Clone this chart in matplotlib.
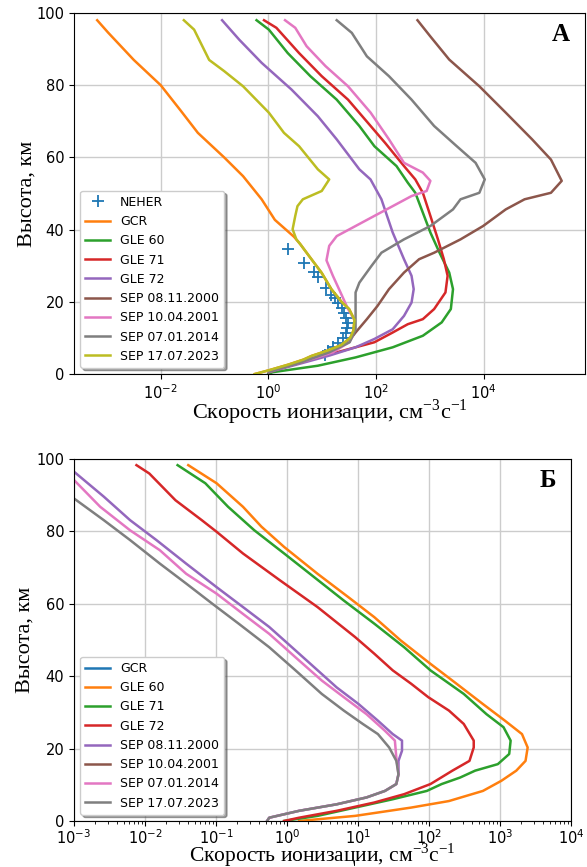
import matplotlib
matplotlib.use("Agg")
import matplotlib.pyplot as plt
from matplotlib.ticker import NullLocator

# ---------------- Panel A data (altitude km, ionization rate cm^-3 s^-1) ----------------
neher_alt = [34.6, 30.7, 28.3, 27.0, 23.7, 21.9, 21.0, 19.6, 18.2, 16.8, 15.4, 14.0, 12.7, 11.3, 9.9, 8.5, 7.6, 6.5, 5.3]
neher_rate = [2.29, 4.68, 7.08, 8.51, 12.0, 14.8, 17.4, 20.0, 22.9, 25.7, 28.2, 30.2, 29.5, 28.2, 24.5, 20.0, 16.2, 12.9, 11.2]

gcr_alt = [98, 94.6, 87, 80, 73, 66.8, 60, 54.8, 48.4, 42.7, 38, 36, 33, 28, 23.5, 20, 18, 15, 12, 10, 8, 6.5, 5, 4, 2.6, 1, 0]
gcr_rate = [6.6e-4, 1.05e-3, 3.16e-3, 0.01, 0.0234, 0.049, 0.151, 0.339, 0.75, 1.32, 3.0, 3.9, 5.5, 9.8, 14.8,
            22.9, 31.6, 39.8, 38.0, 33.1, 22.4, 12.6, 6.3, 4.5, 2.34, 1.0, 0.56]

gle60_alt = [98, 95.4, 88.9, 82.5, 76, 68.7, 63.1, 57.6, 53, 50.2, 44.7, 39.2, 33.6, 28.1, 23.5, 18, 14.3, 10.6, 7.4, 4.6, 2.3, 0.5, 0]
gle60_rate = [0.603, 1.02, 2.29, 6.03, 18.6, 49, 93.3, 240, 389, 537, 741, 1023, 1514, 2291, 2692, 2455, 1660, 741,
              204, 41.7, 8.3, 1.2, 1.0]

gle71_alt = [98, 95.9, 88.9, 82.5, 76, 68.7, 64, 57.6, 53.9, 50.2, 43.8, 37.3, 31.8, 27.2, 22.6, 18, 15.2, 13.8, 11.5, 8.8, 6, 3.2, 0.5]
gle71_rate = [0.83, 1.41, 3.72, 9.8, 30.2, 79.4, 148, 331, 537, 741, 1023, 1413, 1820, 2138, 1950, 1202, 741, 389,
              204, 93.3, 18.6, 3.72, 1.02]

gle72_alt = [98, 92.6, 86.2, 78.8, 71.4, 65, 56.7, 53.9, 48.4, 39.2, 31.8, 27.2, 23.5, 19.8, 16.1, 12.4, 9.7, 7.4, 5.1, 2.8, 0.5]
gle72_rate = [0.138, 0.288, 0.75, 2.69, 8.3, 18.6, 49, 79, 126, 204, 331, 457, 501, 457, 331, 204, 93, 41.7, 13.5, 3.72, 1.02]

sep2000_alt = [98, 93.5, 87.1, 79.7, 72.4, 65, 59.4, 53.5, 50.2, 48.4, 45.6, 41, 37.3, 33.6, 31.8, 28.1, 23.5, 18.9, 15.2, 11.5, 8.8, 6, 3.2, 0.6]
sep2000_rate = [589, 1023, 2291, 8318, 25704, 79433, 177828, 281838, 177828, 57544, 25704, 9772, 3715, 1202, 631, 331,
                174, 107, 67.6, 41.7, 30.2, 14.1, 3.98, 1.02]

sep2001_alt = [98, 95.9, 90.8, 85.3, 79.7, 72.4, 65, 58.5, 55.8, 53.5, 50.7, 49.3, 46.5, 43.8, 41, 38.2, 35.5, 31.5, 27.2,
               22.6, 18, 15, 12.4, 10, 8.8, 6, 3.2, 0.6]
sep2001_rate = [2.04, 3.16, 5.13, 11.5, 30.2, 79.4, 174, 331, 741, 1023, 871, 457, 204, 93.3, 41.7, 18.6, 13.5, 12.0,
                15.8, 21.9, 30.2, 39.8, 39.8, 35.5, 31.6, 15.8, 3.98, 1.02]

sep2014_alt = [98, 94.5, 88, 82.5, 76, 68.7, 63.1, 58.5, 53.9, 50.2, 48.4, 45.6, 41, 37.3, 33.6, 29.8, 25.3, 22.6, 18, 12.4, 8.8, 6, 3.2, 0.6]
sep2014_rate = [18.6, 35.5, 67.6, 174, 457, 1202, 3162, 7079, 10471, 8318, 3715, 2692, 1023, 331, 126, 81, 49, 41.7,
                41.7, 41.7, 32.4, 13.5, 3.98, 1.02]

sep2023_alt = [98, 95.4, 87, 83.9, 79.7, 72.4, 66.8, 63.1, 56.7, 53.9, 50.7, 48.4, 46.5, 43.8, 40.1, 37.3, 36, 33, 28,
               23.5, 20, 18, 15, 12, 10, 8, 6.5, 5, 4, 2.6, 1, 0]
sep2023_rate = [0.0269, 0.0417, 0.0794, 0.151, 0.339, 1.02, 1.95, 3.72, 8.3, 13.5, 9.8, 4.37, 3.47, 3.16, 2.82, 3.31,
                3.9, 5.5, 9.8, 14.8, 22.9, 31.6, 39.8, 38.0, 33.1, 22.4, 12.6, 6.3, 4.5, 2.34, 1.0, 0.56]

# ---------------- Panel B data ----------------
b_gcr_alt = []
b_gcr_rate = []

b_gle60_alt = [98.3, 93.3, 86.8, 81.3, 75.7, 68.3, 61.9, 56.3, 49.9, 43.4, 37.9, 32.3, 27.7, 24, 20.3, 16.6, 13.9, 11.1, 8.3, 5.5, 3.7, 1.4, 0]
b_gle60_rate = [0.0407, 0.102, 0.24, 0.437, 0.912, 2.69, 7.24, 17.0, 39.8, 105, 245, 575, 1175, 2042, 2455, 2291, 1698,
                1047, 575, 191, 56.2, 9.1, 1.48]

b_gle71_alt = [98.3, 93.3, 86.8, 80.3, 73.9, 67.4, 60.9, 54.5, 48, 41.6, 35.1, 29.5, 25.9, 22.2, 18.5, 15.7, 13.9, 12, 10.2, 8.3, 6, 3.7, 1.4, 0]
b_gle71_rate = [0.0288, 0.0708, 0.148, 0.347, 0.912, 2.4, 6.31, 17.0, 44.7, 105, 309, 646, 1122, 1413, 1349, 933, 447,
                275, 151, 93.3, 30.9, 9.12, 2.69, 0.912]

b_gle72_alt = [98.3, 96, 88.6, 83.1, 79.9, 73.9, 66.5, 59.1, 50.8, 46.2, 41.6, 37.9, 34.2, 30.5, 26.8, 22.2, 20.3, 16.6, 13.9, 10.2, 7.4, 5.1, 2.8, 0.9, 0]
b_gle72_rate = [0.00759, 0.0115, 0.0269, 0.0631, 0.102, 0.24, 0.794, 2.69, 9.12, 17.0, 30.9, 56.2, 97.7, 191, 309, 427,
                427, 372, 214, 105, 44.7, 17.0, 5.01, 1.48, 0.912]

b_sep2000_alt = [96.5, 89.6, 83.1, 77.6, 71.1, 64.6, 59.1, 53.6, 47.1, 40.6, 36.9, 32.3, 27.7, 24, 22.2, 19.4, 16.6, 12.9, 10.2, 8.3, 6.5, 4.6, 2.8, 0.9, 0]
b_sep2000_rate = [0.001, 0.00263, 0.00617, 0.0145, 0.038, 0.102, 0.24, 0.562, 1.32, 3.09, 5.01, 10.2, 19.1, 30.9, 41.7,
                  41.7, 37.2, 37.2, 34.7, 24.0, 13.2, 5.01, 1.48, 0.562, 0.525]

b_sep2001_alt = []
b_sep2001_rate = []

b_sep2014_alt = [94.2, 86.8, 80.3, 74.8, 68.3, 62.8, 57.2, 51.7, 45.2, 38.8, 34.2, 29.5, 24.9, 22.2, 17.5, 12.9, 10.2, 8.3, 6.5, 4.6, 2.8, 0.9, 0]
b_sep2014_rate = [0.001, 0.00234, 0.00617, 0.0162, 0.038, 0.102, 0.24, 0.562, 1.32, 3.09, 6.31, 13.2, 24.0, 33.1, 34.7,
                  37.2, 34.7, 24.0, 13.2, 5.01, 1.48, 0.562, 0.525]

b_sep2023_alt = [89.1, 83.1, 77.6, 71.1, 65.6, 60, 54.5, 48, 41.6, 35.1, 30.5, 26.8, 24, 20.3, 16.6, 12.9, 10.2, 8.3, 6.5, 4.6, 2.8, 0.9, 0]
b_sep2023_rate = [0.001, 0.00263, 0.00617, 0.0162, 0.038, 0.0891, 0.209, 0.562, 1.32, 3.09, 6.31, 11.7, 19.1, 27.5, 34.7,
                  37.2, 34.7, 24.0, 13.2, 5.01, 1.48, 0.562, 0.525]

labels_a = ["GCR", "GLE 60", "GLE 71", "GLE 72", "SEP 08.11.2000", "SEP 10.04.2001", "SEP 07.01.2014", "SEP 17.07.2023"]
y_ticks = [0, 20, 40, 60, 80, 100]
xticks_a = [1e-2, 1e0, 1e2, 1e4]

SERIF = ["Liberation Serif", "DejaVu Serif"]
xlabel = "Скорость ионизации, см$^{\\mathregular{-3}}$с$^{\\mathregular{-1}}$"
ylabel = "Высота, км"

plt.rcParams["font.family"] = ["DejaVu Sans"]
plt.rcParams["mathtext.fontset"] = "dejavusans"

fig = plt.figure(figsize=(5.87, 8.67), dpi=100)
axA = fig.add_axes([0.126, 0.5686, 0.8705, 0.4164])
axB = fig.add_axes([0.126, 0.0531, 0.8467, 0.4175])

LW = 1.8
colsA = ["tab:orange", "tab:green", "tab:red", "tab:purple", "tab:brown", "tab:pink", "tab:gray", "tab:olive"]
dataA = [(gcr_rate, gcr_alt), (gle60_rate, gle60_alt), (gle71_rate, gle71_alt), (gle72_rate, gle72_alt),
         (sep2000_rate, sep2000_alt), (sep2001_rate, sep2001_alt), (sep2014_rate, sep2014_alt),
         (sep2023_rate, sep2023_alt)]

axA.plot(neher_rate, neher_alt, "+", color="tab:blue", ms=9, mew=1.3, label="NEHER")
for (x, y), c, lab in zip(dataA, colsA, labels_a):
    axA.plot(x, y, color=c, lw=LW, label=lab)
axA.set_xscale("log")
axA.set_ylim(0, 100)
axA.set_yticks(y_ticks)
axA.set_xticks(xticks_a)
axA.xaxis.set_minor_locator(NullLocator())

colsB = ["tab:blue", "tab:orange", "tab:green", "tab:red", "tab:purple", "tab:brown", "tab:pink", "tab:gray"]
dataB = [(b_gcr_rate, b_gcr_alt), (b_gle60_rate, b_gle60_alt), (b_gle71_rate, b_gle71_alt),
         (b_gle72_rate, b_gle72_alt), (b_sep2000_rate, b_sep2000_alt), (b_sep2001_rate, b_sep2001_alt),
         (b_sep2014_rate, b_sep2014_alt), (b_sep2023_rate, b_sep2023_alt)]
for (x, y), c, lab in zip(dataB, colsB, labels_a):
    axB.plot(x, y, color=c, lw=LW, label=lab)
axB.set_xscale("log")
axB.set_xlim(1e-3, 1e4)
axB.set_ylim(0, 100)
axB.set_yticks(y_ticks)
axB.tick_params(axis="x", which="major", pad=1.5)

for ax, tag, ylx, xly, xfs in ((axA, "А", -0.074, -0.124, 16), (axB, "Б", -0.08, -0.112, 15.5)):
    ax.grid(True, which="major", color="#cccccc", lw=1.0)
    ax.set_axisbelow(True)
    ax.tick_params(labelsize=10.5)
    ax.set_xlabel(xlabel, family=SERIF, fontsize=xfs)
    ax.set_ylabel(ylabel, family=SERIF, fontsize=16)
    ax.xaxis.label.set_verticalalignment("baseline")
    ax.xaxis.set_label_coords(0.5, xly)
    ax.yaxis.set_label_coords(ylx, 0.5)
    ax.text(0.953, 0.94, tag, transform=ax.transAxes, family=SERIF, fontweight="bold",
            fontsize=18, ha="center", va="center")
    ax.legend(loc="lower left", fontsize=9, shadow=True, framealpha=1.0, handlelength=2.0)

fig.savefig("out.png", dpi=100)
